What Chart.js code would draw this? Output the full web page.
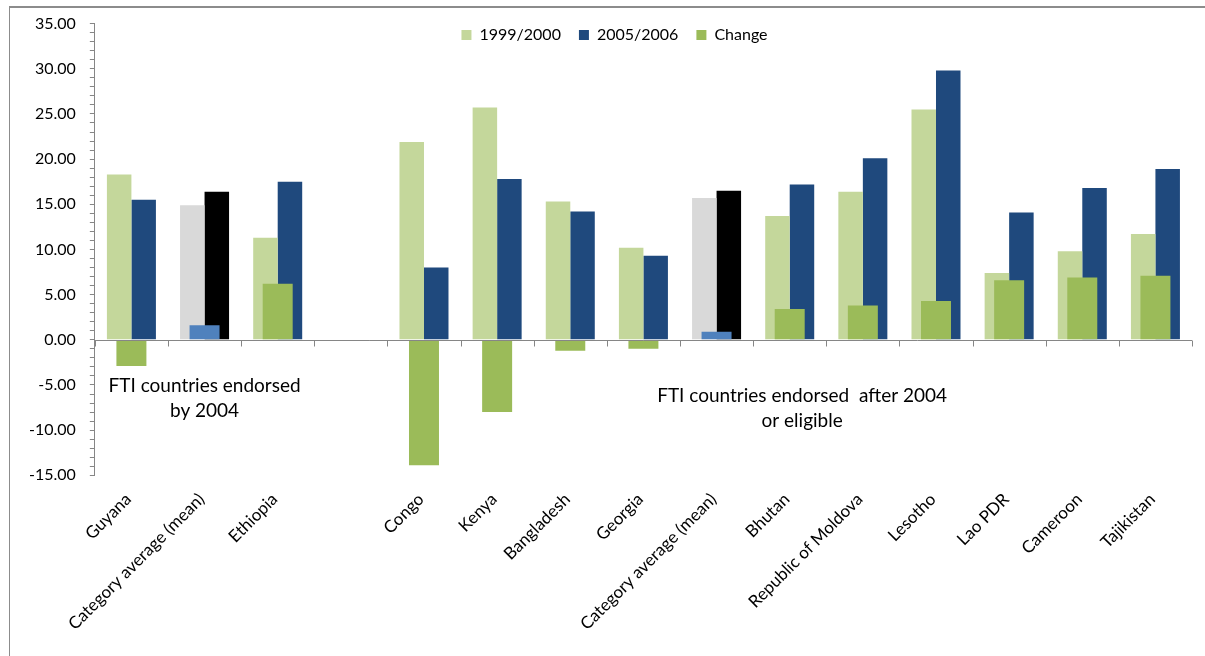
<!DOCTYPE html>
<html>
<head>
<meta charset="utf-8">
<script src="https://cdn.jsdelivr.net/npm/chart.js@4/dist/chart.umd.min.js"></script>
<style>
  html, body { margin: 0; padding: 0; background: #fff; }
  #wrap { position: absolute; left: 0; top: 0; width: 1205px; height: 656px; }
  #frame { position: absolute; left: 9px; top: 6px; width: 1200px; height: 660px;
           border-left: 1px solid #8c8c8c; border-top: 2px solid #8c8c8c; pointer-events: none; }
  canvas { position: absolute; left: 0; top: 0; }
</style>
</head>
<body>
<div id="wrap">
  <canvas id="chart" width="1205" height="656"></canvas>
  <div id="frame"></div>
</div>
<script>
// Categories (blank slot separates the two country groups)
const categories = [
  'Guyana', 'Category average (mean)', 'Ethiopia', '',
  'Congo', 'Kenya', 'Bangladesh', 'Georgia', 'Category average (mean)',
  'Bhutan', 'Republic of Moldova', 'Lesotho', 'Lao PDR', 'Cameroon', 'Tajikistan'
];
const values1999 = [18.3, 14.9, 11.3, null, 21.9, 25.7, 15.3, 10.2, 15.7, 13.7, 16.4, 25.5, 7.4, 9.8, 11.7];
const values2005 = [15.5, 16.4, 17.5, null, 8.0, 17.8, 14.2, 9.3, 16.5, 17.2, 20.1, 29.8, 14.1, 16.8, 18.9];
const valuesChange = [-2.9, 1.6, 6.2, null, -13.9, -8.0, -1.2, -1.0, 0.9, 3.4, 3.8, 4.3, 6.6, 6.9, 7.1];
const seriesNames = ['1999/2000', '2005/2006', 'Change'];
const groupNotes = [
  { lines: ['FTI countries endorsed', 'by 2004'], at: 1, y: [-5.1, -7.9] },
  { lines: ['FTI countries endorsed  after 2004', 'or eligible'], at: 9.17, y: [-6.2, -9.0] }
];

const AVG = new Set([1, 8]);
const colorsFor = (base, avg) => categories.map((_, i) => AVG.has(i) ? avg : base);
const legendColors = ['#C4D79B', '#1F497D', '#9BBB59'];

const FONT = 'Lato, "Liberation Sans", sans-serif';
const AXIS = '#868686';

// Zero line with category tick marks, plus the two group notes
const extras = {
  id: 'extras',
  beforeLayout(chart) {
    // legend floats over the plot instead of taking its own band
    const lg = chart.legend;
    if (lg && !lg._floating) {
      const fit = lg.fit;
      lg.fit = function () { fit.call(this); this.height = 0; };
      lg._floating = true;
    }
  },
  afterLayout(chart) {
    const lg = chart.legend;
    if (lg) {
      lg.left += 11; lg.right += 11;
      lg.top = 9; lg.bottom = 57; lg.height = 48;
    }
  },
  afterDatasetsDraw(chart) {
    const { ctx, chartArea: a, scales: { x, y } } = chart;
    const y0 = Math.round(y.getPixelForValue(0)) + 0.5;
    ctx.save();
    ctx.strokeStyle = AXIS;
    ctx.lineWidth = 1;
    ctx.beginPath();
    ctx.moveTo(a.left, y0);
    ctx.lineTo(a.right, y0);
    const n = categories.length;
    for (let i = 0; i <= n; i++) {
      const px = Math.round(a.left + (a.right - a.left) * i / n) + 0.5;
      ctx.moveTo(px, y0);
      ctx.lineTo(px, y0 + 6);
    }
    ctx.stroke();

    ctx.fillStyle = '#000';
    ctx.font = '19px ' + FONT;
    ctx.textAlign = 'center';
    ctx.textBaseline = 'middle';
    const step = x.getPixelForValue(1) - x.getPixelForValue(0);
    for (const note of groupNotes) {
      const cx = x.getPixelForValue(0) + step * note.at;
      note.lines.forEach((t, k) => ctx.fillText(t, cx, y.getPixelForValue(note.y[k])));
    }
    ctx.restore();
  }
};

new Chart(document.getElementById('chart'), {
  type: 'bar',
  data: {
    labels: categories,
    datasets: [
      {
        label: seriesNames[0], data: values1999, order: 1,
        backgroundColor: colorsFor('#C4D79B', '#D9D9D9'),
        categoryPercentage: 0.67, barPercentage: 1.0
      },
      {
        label: seriesNames[1], data: values2005, order: 2,
        backgroundColor: colorsFor('#1F497D', '#000000'),
        categoryPercentage: 0.67, barPercentage: 1.0
      },
      {
        label: seriesNames[2], data: valuesChange, order: 0, grouped: false,
        backgroundColor: colorsFor('#9BBB59', '#4F81BD'),
        categoryPercentage: 1.0, barPercentage: 0.41
      }
    ]
  },
  options: {
    responsive: false,
    animation: false,
    layout: { padding: { left: 15, right: 13, top: 20, bottom: 16 } },
    plugins: {
      tooltip: { enabled: false },
      legend: {
        position: 'top',
        align: 'center',
        labels: {
          boxWidth: 10, boxHeight: 10, padding: 18,
          color: '#000', font: { family: FONT, size: 16 },
          generateLabels: (chart) => chart.data.datasets.map((d, i) => ({
            text: d.label,
            fillStyle: legendColors[i],
            strokeStyle: 'rgba(0,0,0,0)',
            lineWidth: 0,
            datasetIndex: i,
            hidden: false
          }))
        }
      }
    },
    scales: {
      x: {
        grid: { display: false },
        border: { display: false },
        ticks: {
          autoSkip: false, maxRotation: 45, minRotation: 45, padding: 6, labelOffset: -3,
          color: '#000', font: { family: FONT, size: 17 }
        }
      },
      y: {
        min: -15, max: 35,
        border: { display: true, color: AXIS, width: 1 },
        grid: { drawOnChartArea: false, drawTicks: true, tickLength: 5, color: AXIS },
        ticks: {
          stepSize: 1, autoSkip: false, padding: 14,
          color: '#000', font: { family: FONT, size: 16 },
          callback: (v) => (Math.abs(v % 5) < 1e-9 ? Number(v).toFixed(2) : '')
        }
      }
    }
  },
  plugins: [extras]
});
</script>
</body>
</html>
